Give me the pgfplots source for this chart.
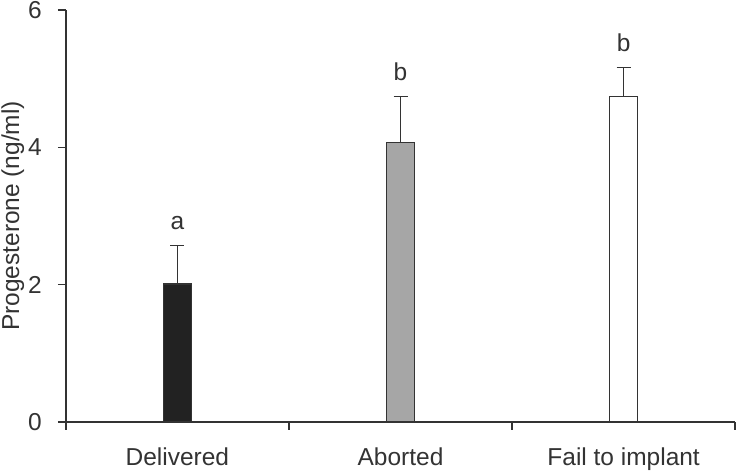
\documentclass[border=0pt]{standalone}
\usepackage{pgfplots}
\pgfplotsset{compat=1.18}
\usepackage{fontspec}
\setmainfont{Liberation Sans}
\definecolor{edge}{HTML}{333333}
\definecolor{darkbar}{HTML}{222222}
\definecolor{graybar}{HTML}{A6A6A6}
\begin{document}
\begin{tikzpicture}
\begin{axis}[
  scale only axis,
  width=670pt, height=412pt,
  xmin=0, xmax=3, ymin=0, ymax=6,
  axis x line*=bottom, axis y line*=left,
  axis line style={-, draw=edge, line width=1.6pt},
  font=\fontsize{24.5}{29}\selectfont,
  /pgf/number format/assume math mode=true,
  tick align=outside,
  major tick length=8pt, minor tick length=8pt,
  tick style={draw=edge, line width=1.6pt},
  ytick={0,2,4,6},
  yticklabel style={inner sep=1.5pt, xshift=-14.5pt, text=edge},
  xtick={0.5,1.5,2.5},
  xticklabels={Delivered,Aborted,Fail to implant},
  xticklabel style={inner sep=1.5pt, yshift=-16.5pt, text=edge},
  minor xtick={0,1,2,3},
  major x tick style={draw=none},
  ylabel={Progesterone (ng/ml)},
  ylabel style={at={(axis description cs:0,0.5)}, anchor=center, inner sep=1.5pt, yshift=53pt, text=edge},
  clip=false,
]
\addplot[ybar, bar width=28pt, fill=darkbar, draw=edge, line width=1.3pt,
  error bars/.cd, y dir=plus, y explicit,
  error bar style={draw=edge, line width=1.4pt},
  error mark options={draw=edge, line width=1.4pt, mark size=7pt, rotate=90}]
  coordinates {(0.5,2.01) +- (0,0.56)};
\addplot[ybar, bar width=28pt, fill=graybar, draw=edge, line width=1.3pt,
  error bars/.cd, y dir=plus, y explicit,
  error bar style={draw=edge, line width=1.4pt},
  error mark options={draw=edge, line width=1.4pt, mark size=7pt, rotate=90}]
  coordinates {(1.5,4.07) +- (0,0.67)};
\addplot[ybar, bar width=28pt, fill=white, draw=edge, line width=1.3pt,
  error bars/.cd, y dir=plus, y explicit,
  error bar style={draw=edge, line width=1.4pt},
  error mark options={draw=edge, line width=1.4pt, mark size=7pt, rotate=90}]
  coordinates {(2.5,4.74) +- (0,0.42)};
\addplot[only marks, mark=none, point meta=explicit symbolic,
  nodes near coords, nodes near coords style={anchor=south, inner sep=0pt, yshift=16pt, text=edge, font=\fontsize{24.5}{29}\selectfont}]
  coordinates {(0.5,2.57) [a] (1.5,4.74) [b] (2.5,5.16) [b]};
\end{axis}
\end{tikzpicture}
\end{document}
